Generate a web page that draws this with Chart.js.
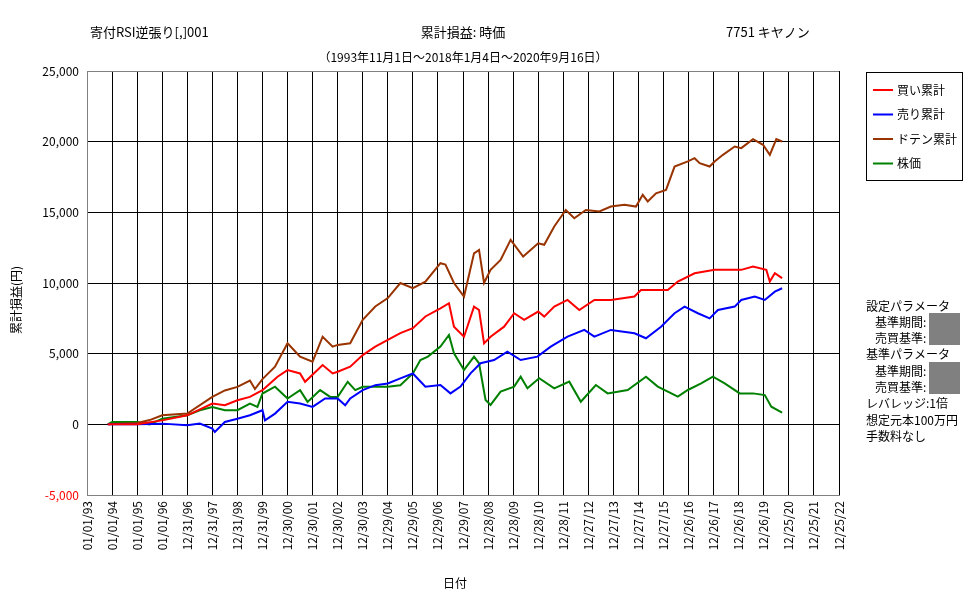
<!DOCTYPE html>
<html><head><meta charset="utf-8">
<script src="https://cdn.jsdelivr.net/npm/chart.js@4"></script>
<style>html,body{margin:0;padding:0;background:#fff}#w{width:977px;height:600px;position:relative}</style>
</head><body><div id="w"><canvas id="c"></canvas></div>
<script>
const xLabels=["01/01/93","01/01/94","01/01/95","01/01/96","12/31/96","12/31/97","12/31/98","12/31/99","12/30/00","12/30/01","12/30/02","12/30/03","12/29/04","12/29/05","12/29/06","12/29/07","12/28/08","12/28/09","12/28/10","12/28/11","12/27/12","12/27/13","12/27/14","12/27/15","12/26/16","12/26/17","12/26/18","12/26/19","12/25/20","12/25/21","12/25/22"];
const seriesNames=["買い累計","売り累計","ドテン累計","株価"];
const seriesColors=["#ff0000","#0000ff","#993300","#008000"];
const buyX=[0.83,2,3,4,5,5.5,6,6.5,7,7.3,7.6,8,8.5,8.7,9.4,9.8,10,10.5,11,11.5,12,12.5,13,13.5,14.1,14.44,14.64,15.04,15.44,15.64,15.84,16.1,16.64,17.04,17.44,18,18.24,18.64,19.17,19.64,20.24,20.9,21.84,22.1,22.77,23.17,23.57,24.24,25.04,25.57,26.1,26.57,27.1,27.24,27.44,27.73];
const buyY=[0,0,280,640,1470,1350,1700,1940,2420,2890,3370,3840,3600,3010,4200,3600,3720,4080,4900,5500,5970,6450,6800,7630,8210,8570,6910,6200,8330,8090,5730,6200,6910,7860,7390,7980,7620,8330,8800,8090,8800,8800,9040,9510,9510,9510,10100,10690,10930,10930,10930,11160,10930,10100,10690,10340];
const sellX=[0.83,2,3,4,4.5,5,5.1,5.5,6,6.5,7,7.1,7.5,8,8.5,9,9.5,10,10.3,10.5,11,11.5,12,12.5,13,13.5,14.1,14.5,14.9,15.3,15.7,16.24,16.77,17.3,17.97,18.5,19.17,19.84,20.24,20.9,21.84,22.3,22.9,23.44,23.84,24.37,24.84,25.17,25.84,26.1,26.64,27.04,27.44,27.73];
const sellY=[0,0,50,-70,50,-300,-540,170,400,640,1000,280,760,1590,1470,1230,1830,1830,1350,1830,2420,2770,2890,3250,3600,2660,2780,2190,2670,3610,4320,4550,5140,4550,4790,5500,6210,6680,6210,6680,6440,6090,6910,7860,8330,7860,7500,8090,8330,8800,9040,8800,9390,9630];
const dotenX=[0.83,2,2.5,3,4,5,5.5,6,6.5,6.7,7,7.5,8,8.5,9,9.4,9.8,10,10.5,11,11.5,12,12.5,13,13.5,14.1,14.3,14.64,15.04,15.44,15.64,15.84,16.1,16.5,16.9,17.4,18,18.24,18.64,19.1,19.44,19.9,20.44,20.9,21.44,21.9,22.17,22.37,22.7,23.1,23.44,23.97,24.24,24.44,24.84,25.04,25.37,25.84,26.1,26.57,26.97,27.24,27.5,27.73];
const dotenY=[0,100,300,640,760,1940,2400,2650,3100,2500,3200,4080,5740,4790,4430,6200,5500,5620,5740,7400,8340,8930,10000,9640,10100,11400,11300,10000,9040,12100,12340,10000,10930,11630,13050,11870,12810,12700,14000,15170,14580,15170,15060,15410,15530,15410,16240,15770,16350,16590,18240,18600,18830,18480,18240,18600,19070,19660,19540,20180,19780,19070,20180,20010];
const stockX=[0.83,1,2,2.5,3,4,4.5,5,5.5,6,6.5,6.8,7,7.5,8,8.5,8.8,9.3,9.7,10,10.4,10.7,11,11.5,12,12.5,13,13.3,13.6,14.1,14.44,14.64,15.04,15.44,15.64,15.9,16.1,16.5,17.04,17.3,17.57,18.04,18.64,19.24,19.7,20.3,20.77,21.57,22.3,22.77,23.17,23.57,23.97,24.5,24.97,25.44,26.04,26.57,27.04,27.3,27.73];
const stockY=[0,170,170,0,400,640,1000,1230,1000,1000,1470,1230,2180,2660,1830,2420,1590,2420,1940,1940,3010,2420,2660,2660,2660,2770,3600,4550,4790,5500,6320,5030,3850,4790,4320,1720,1370,2310,2670,3370,2550,3260,2550,3020,1600,2780,2190,2430,3370,2670,2310,1960,2430,2900,3370,2900,2190,2190,2070,1250,830];
const yTicks=[-5000,0,5000,10000,15000,20000,25000];

const pairs=(xs,ys)=>xs.map((x,i)=>({x:x,y:ys[i]}));
const allData=[pairs(buyX,buyY),pairs(sellX,sellY),pairs(dotenX,dotenY),pairs(stockX,stockY)];
const FONT='"MS PGothic","Noto Sans CJK JP",sans-serif';

const deco={id:'deco',afterDraw(ch){
  const c=ch.ctx;c.save();
  c.fillStyle='#000';c.textBaseline='middle';
  c.font='13px '+FONT;c.textAlign='left';
  c.fillText('寄付RSI逆張り[,]001',90,32);
  c.textAlign='center';c.fillText('累計損益: 時価',463,32);
  c.textAlign='left';c.fillText('7751 キヤノン',726,32);
  c.font='12px '+FONT;c.textAlign='center';
  c.fillText('（1993年11月1日～2018年1月4日～2020年9月16日）',463,57);
  c.fillText('日付',455,583);
  c.save();c.translate(16,300);c.rotate(-Math.PI/2);c.fillText('累計損益(円)',0,0);c.restore();
  c.strokeStyle='#000';c.lineWidth=1;c.strokeRect(866.5,72.5,96,108);
  seriesNames.forEach((n,i)=>{const y=90+i*24.5;
    c.strokeStyle=seriesColors[i];c.lineWidth=2;c.beginPath();c.moveTo(873,y);c.lineTo(893,y);c.stroke();
    c.fillStyle='#000';c.textAlign='left';c.fillText(n,897,y);});
  const info=[['設定パラメータ',866],['基準期間:',875],['売買基準:',875],['基準パラメータ',866],['基準期間:',875],['売買基準:',875],['レバレッジ:1倍',866],['想定元本100万円',866],['手数料なし',866]];
  info.forEach((t,i)=>{const y=306+i*16.3;c.fillStyle='#000';c.fillText(t[0],t[1],y);});
  c.fillStyle='#808080';c.fillRect(929,313,31,32);c.fillRect(929,362,31,32);
  c.restore();}};

new Chart(document.getElementById('c'),{
 type:'line',
 data:{datasets:allData.map((d,i)=>({label:seriesNames[i],data:d,borderColor:seriesColors[i],borderWidth:2,pointRadius:0,tension:0,fill:false}))},
 options:{responsive:true,maintainAspectRatio:false,animation:false,
  layout:{padding:{top:71,right:138,left:0,bottom:0}},
  plugins:{legend:{display:false},tooltip:{enabled:false}},
  scales:{
   x:{type:'linear',min:0,max:30,
    afterFit(s){s.height=105;},
    afterBuildTicks(s){s.ticks=xLabels.map((_,i)=>({value:i}));},
    ticks:{autoSkip:false,maxRotation:90,minRotation:90,color:'#000',padding:6,font:{size:12,family:FONT},callback:(v)=>xLabels[v]},
    grid:{color:'#000',lineWidth:1,drawTicks:false},border:{color:'#808080'}},
   y:{min:-5000,max:25000,
    afterFit(s){s.width=87;},
    afterBuildTicks(s){s.ticks=yTicks.map(v=>({value:v}));},
    ticks:{color:(c)=>c.tick.value<0?'#ff0000':'#000',padding:8,font:{size:12,family:FONT},callback:(v)=>v.toLocaleString('en-US')},
    grid:{color:(c)=>(c.tick.value===-5000||c.tick.value===25000)?'#808080':'#000',lineWidth:1,drawTicks:false},border:{color:'#808080'}}
  }},
 plugins:[deco]});
</script></body></html>
